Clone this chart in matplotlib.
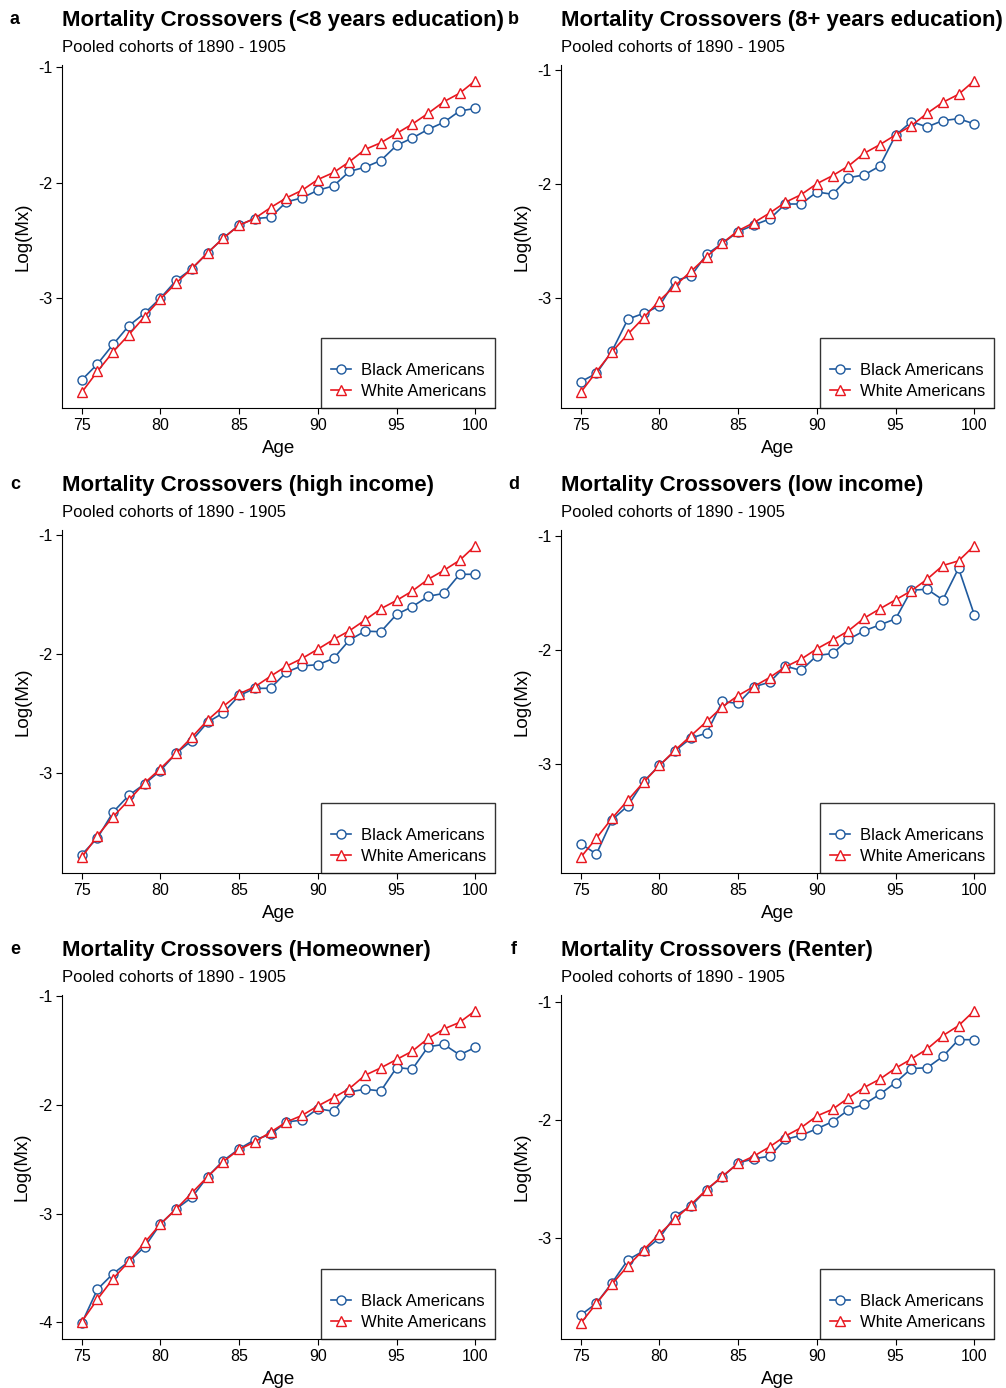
import matplotlib
matplotlib.use('Agg')
import matplotlib.pyplot as plt
from matplotlib.ticker import MultipleLocator

plt.rcParams['font.family'] = ['Liberation Sans', 'DejaVu Sans']
plt.rcParams['axes.unicode_minus'] = False

ages = list(range(75, 101))

letters = ['a', 'b', 'c', 'd', 'e', 'f']
titles = [
    'Mortality Crossovers (<8 years education)',
    'Mortality Crossovers (8+ years education)',
    'Mortality Crossovers (high income)',
    'Mortality Crossovers (low income)',
    'Mortality Crossovers (Homeowner)',
    'Mortality Crossovers (Renter)',
]
subtitle = 'Pooled cohorts of 1890 - 1905'

# log(Mx) by age
black_a = [-3.713, -3.574, -3.403, -3.241, -3.133, -3.003, -2.849, -2.748, -2.609, -2.481,
           -2.368, -2.313, -2.301, -2.168, -2.133, -2.067, -2.029, -1.904, -1.867, -1.809,
           -1.678, -1.614, -1.539, -1.478, -1.380, -1.357]
white_a = [-3.820, -3.638, -3.467, -3.319, -3.162, -3.009, -2.872, -2.745, -2.609, -2.481,
           -2.371, -2.310, -2.217, -2.133, -2.067, -1.974, -1.913, -1.820, -1.713, -1.655,
           -1.574, -1.493, -1.400, -1.299, -1.226, -1.116]

black_b = [-3.729, -3.656, -3.458, -3.181, -3.131, -3.067, -2.845, -2.805, -2.615, -2.519,
           -2.417, -2.359, -2.306, -2.175, -2.175, -2.070, -2.090, -1.945, -1.921, -1.843,
           -1.574, -1.455, -1.501, -1.446, -1.429, -1.475]
white_b = [-3.822, -3.641, -3.466, -3.312, -3.169, -3.020, -2.889, -2.764, -2.636, -2.516,
           -2.408, -2.338, -2.254, -2.160, -2.093, -1.997, -1.927, -1.843, -1.732, -1.656,
           -1.571, -1.490, -1.382, -1.286, -1.216, -1.096]

black_c = [-3.686, -3.546, -3.328, -3.188, -3.092, -2.980, -2.835, -2.728, -2.574, -2.496,
           -2.350, -2.291, -2.289, -2.154, -2.101, -2.092, -2.039, -1.885, -1.810, -1.815,
           -1.669, -1.605, -1.518, -1.493, -1.333, -1.333]
white_c = [-3.709, -3.527, -3.367, -3.227, -3.084, -2.964, -2.835, -2.700, -2.557, -2.440,
           -2.336, -2.277, -2.188, -2.104, -2.039, -1.961, -1.880, -1.807, -1.717, -1.622,
           -1.552, -1.473, -1.375, -1.300, -1.216, -1.092]

black_d = [-3.702, -3.792, -3.491, -3.368, -3.155, -3.015, -2.886, -2.775, -2.731, -2.453,
           -2.471, -2.325, -2.284, -2.143, -2.181, -2.050, -2.032, -1.909, -1.833, -1.781,
           -1.728, -1.477, -1.468, -1.561, -1.284, -1.693]
white_d = [-3.822, -3.652, -3.477, -3.319, -3.161, -3.015, -2.880, -2.754, -2.629, -2.500,
           -2.401, -2.322, -2.243, -2.149, -2.082, -1.991, -1.915, -1.833, -1.722, -1.640,
           -1.561, -1.482, -1.380, -1.260, -1.219, -1.085]

black_e = [-4.012, -3.698, -3.553, -3.442, -3.307, -3.097, -2.958, -2.851, -2.660, -2.512,
           -2.404, -2.320, -2.271, -2.157, -2.139, -2.034, -2.059, -1.880, -1.855, -1.871,
           -1.655, -1.670, -1.464, -1.442, -1.538, -1.470]
white_e = [-3.997, -3.790, -3.599, -3.442, -3.267, -3.097, -2.958, -2.810, -2.660, -2.521,
           -2.410, -2.339, -2.250, -2.157, -2.096, -2.009, -1.932, -1.849, -1.726, -1.658,
           -1.581, -1.504, -1.387, -1.300, -1.239, -1.131]

black_f = [-3.652, -3.552, -3.377, -3.184, -3.108, -3.000, -2.810, -2.731, -2.589, -2.482,
           -2.363, -2.329, -2.306, -2.164, -2.130, -2.074, -2.014, -1.915, -1.867, -1.782,
           -1.683, -1.564, -1.558, -1.462, -1.320, -1.320]
white_f = [-3.722, -3.552, -3.388, -3.235, -3.099, -2.966, -2.839, -2.717, -2.589, -2.476,
           -2.368, -2.306, -2.227, -2.136, -2.065, -1.966, -1.909, -1.813, -1.725, -1.654,
           -1.561, -1.484, -1.399, -1.286, -1.201, -1.074]

black = [black_a, black_b, black_c, black_d, black_e, black_f]
white = [white_a, white_b, white_c, white_d, white_e, white_f]

blue = '#1f5a9e'
red = '#e8171f'

W, H = 1006, 1388
fig = plt.figure(figsize=(W / 100, H / 100), dpi=100)

lefts = [62, 561]
rows = [(65, 408), (530, 873), (995, 1339)]

for i in range(6):
    r, c = divmod(i, 2)
    top, bot = rows[r]
    ax = fig.add_axes([lefts[c] / W, 1 - bot / H, 433 / W, (bot - top) / H])

    ax.plot(ages, black[i], color=blue, lw=1.2, marker='o', ms=6.5,
            mfc='white', mec=blue, mew=1.0, label='Black Americans')
    ax.plot(ages, white[i], color=red, lw=1.2, marker='^', ms=7.5,
            mfc='white', mec=red, mew=1.0, label='White Americans')
    ax.margins(0.05)

    ax.spines['top'].set_visible(False)
    ax.spines['right'].set_visible(False)
    ax.xaxis.set_major_locator(MultipleLocator(5))
    ax.yaxis.set_major_locator(MultipleLocator(1))
    ax.tick_params(direction='out', length=4, width=0.8, labelsize=11.5, pad=3)
    ax.set_xlabel('Age', fontsize=13.5, labelpad=5)
    ax.set_ylabel('Log(Mx)', fontsize=13.5, labelpad=5)

    leg = ax.legend(loc='lower right', fontsize=12, frameon=True, fancybox=False,
                    borderaxespad=0, handlelength=1.2, handletextpad=0.6,
                    borderpad=0.55, labelspacing=0.35, title=' ', title_fontsize=7)
    leg.get_frame().set_edgecolor('black')
    leg.get_frame().set_linewidth(1.0)

    ax.annotate(titles[i], xy=(0, 1), xycoords='axes fraction', xytext=(0, 32),
                textcoords='offset points', fontsize=16, fontweight='bold',
                ha='left', va='center')
    ax.annotate(subtitle, xy=(0, 1), xycoords='axes fraction', xytext=(0, 12.5),
                textcoords='offset points', fontsize=12, ha='left', va='center')
    ax.annotate(letters[i], xy=(0, 1), xycoords='axes fraction', xytext=(-34, 33),
                textcoords='offset points', fontsize=13, fontweight='bold',
                ha='center', va='center')

fig.savefig('out.png', dpi=100)
